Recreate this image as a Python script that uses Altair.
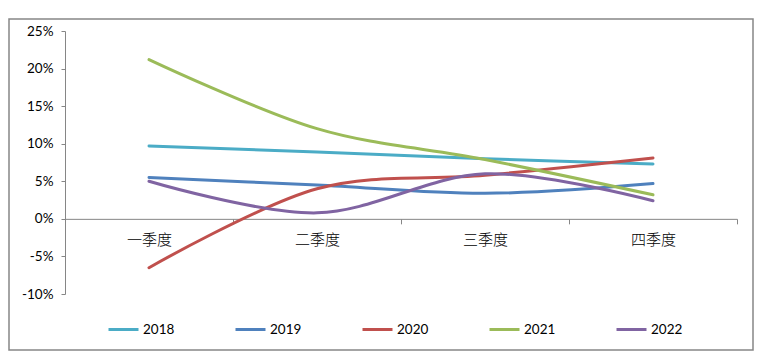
import altair as alt
import pandas as pd

quarters = ["一季度", "二季度", "三季度", "四季度"]
years = ["2018", "2019", "2020", "2021", "2022"]
v2018 = [9.7, 8.9, 8.0, 7.3]
v2019 = [5.5, 4.5, 3.4, 4.7]
v2020 = [-6.5, 4.0, 5.8, 8.1]
v2021 = [21.2, 12.0, 7.9, 3.2]
v2022 = [5.0, 0.8, 6.0, 2.4]
colors = ["#4BACC6", "#4F81BD", "#C0504D", "#9BBB59", "#8064A2"]

series = [v2018, v2019, v2020, v2021, v2022]
rows = []
for y, vals in zip(years, series):
    for i, (q, v) in enumerate(zip(quarters, vals)):
        rows.append({"year": y, "quarter": q, "value": v, "order": i})
df = pd.DataFrame(rows)

W, H = 672, 263
FONT = "Lato, Liberation Sans, Noto Sans CJK SC, sans-serif"

frame = alt.Chart(pd.DataFrame({"k": [0]})).mark_rect(
    fillOpacity=0, stroke="#868686", strokeWidth=1.5
).encode(
    x=alt.value(-56), x2=alt.value(688), y=alt.value(-12), y2=alt.value(319)
)

lines = alt.Chart(df).mark_line(
    interpolate="cardinal", tension=0, strokeWidth=3, strokeCap="round"
).encode(
    x=alt.X("quarter:N", sort=quarters, bandPosition=0.5,
            scale=alt.Scale(type="band", paddingInner=0, paddingOuter=0),
            axis=alt.Axis(title=None, labelAngle=0, orient="bottom",
                          offset=-(H * 10 / 35), tickBand="extent",
                          domainColor="#868686", tickColor="#868686",
                          tickSize=5, labelPadding=9, labelFontSize=15,
                          labelColor="#000000", labelFont="Noto Sans CJK SC",
                          labelFontWeight=300)),
    y=alt.Y("value:Q",
            scale=alt.Scale(domain=[-10, 25], nice=False, zero=False),
            axis=alt.Axis(title=None, values=[-10, -5, 0, 5, 10, 15, 20, 25],
                          labelExpr="datum.value + '%'", grid=False,
                          domainColor="#868686", tickColor="#868686",
                          tickSize=4, labelPadding=8, labelFontSize=13.5,
                          labelColor="#000000", labelFont=FONT,
                          labelFontWeight="normal")),
    color=alt.Color("year:N", sort=years,
                    scale=alt.Scale(domain=years, range=colors),
                    legend=alt.Legend(title=None, orient="none", legendX=42,
                                      legendY=282, direction="horizontal",
                                      columns=5, symbolType="stroke",
                                      symbolSize=900, symbolStrokeWidth=3,
                                      labelFontSize=13.5, labelFont=FONT,
                                      labelFontWeight="normal",
                                      labelColor="#000000", labelOffset=3,
                                      columnPadding=54)),
    order="order:Q",
    detail="year:N",
)

chart = alt.layer(frame, lines).properties(
    width=W, height=H,
    padding={"left": 65, "top": 31, "right": 23, "bottom": 63},
    autosize=alt.AutoSizeParams(type="none"),
    background="white",
).configure_view(stroke=None)

chart.save("out.html", embed_options={"renderer": "svg", "actions": False})
